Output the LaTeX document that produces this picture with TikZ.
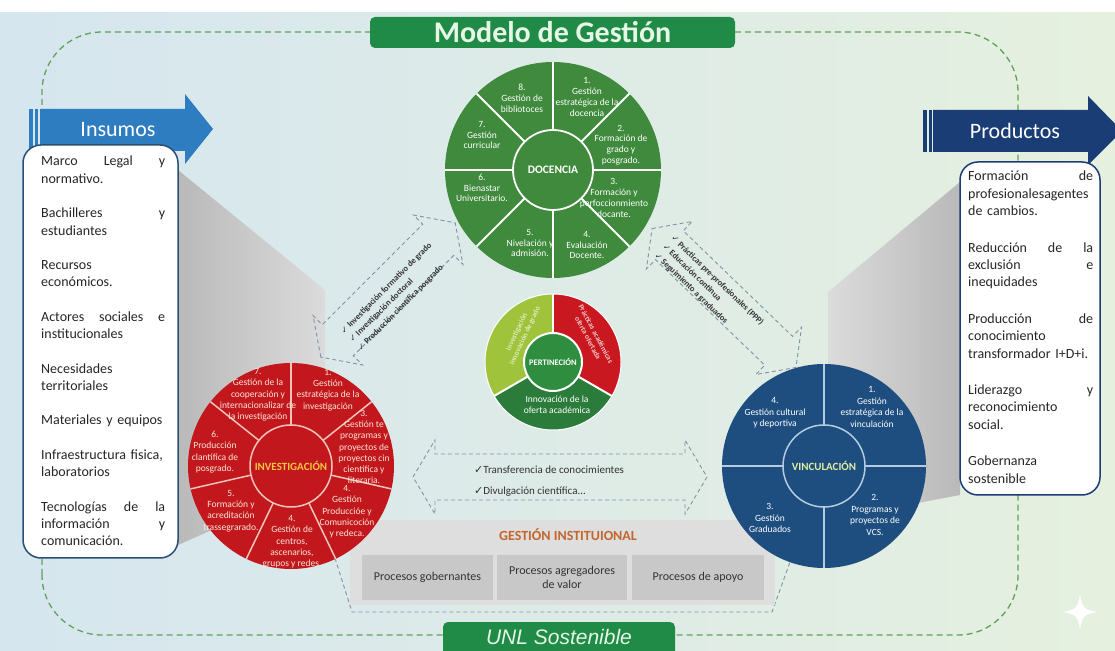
\documentclass[tikz,border=0pt]{standalone}
\usepackage{fontspec}
\setmainfont{Carlito}
\newfontfamily\dejavu{DejaVu Sans}
\newfontfamily\libsans{Liberation Sans}
\definecolor{bgl}{HTML}{D6E6EF}
\definecolor{bgr}{HTML}{E5F0DF}
\definecolor{loopc}{HTML}{5EA35A}
\definecolor{insblue}{HTML}{2E7DC0}
\definecolor{prodblue}{HTML}{1A3D75}
\definecolor{boxblue}{HTML}{2A4F75}
\definecolor{titlegreen}{HTML}{1F8B47}
\definecolor{titletext}{HTML}{E6F7E6}
\definecolor{docgreen}{HTML}{3F8A3C}
\definecolor{invred}{HTML}{C2181D}
\definecolor{invline}{HTML}{F2C4BB}
\definecolor{invtext}{HTML}{F9E6D8}
\definecolor{invlabel}{HTML}{F5C640}
\definecolor{vinblue}{HTML}{1D4E7F}
\definecolor{vinline}{HTML}{B5CBE0}
\definecolor{vinlabel}{HTML}{E2EC9E}
\definecolor{pyel}{HTML}{9FC43C}
\definecolor{pred}{HTML}{C9181F}
\definecolor{pdg}{HTML}{2B7B3B}
\definecolor{pcen}{HTML}{2F8D3F}
\definecolor{arrgray}{HTML}{7F93A6}
\definecolor{panelgray}{HTML}{DEDEDE}
\definecolor{procgray}{HTML}{C8C8C8}
\definecolor{proctext}{HTML}{333333}
\definecolor{orangec}{HTML}{C4662C}
\definecolor{textdark}{HTML}{333333}
\newcommand\hollowdbl[7]{%
 \begin{scope}[shift={(#1,#2)}, rotate=#3]
 \draw[dasharrow] ({-#4/2},0) -- ({-#4/2+#7},#6) -- ({-#4/2+#7},#5) -- ({#4/2-#7},#5) -- ({#4/2-#7},#6) -- ({#4/2},0) -- ({#4/2-#7},-#6) -- ({#4/2-#7},-#5) -- ({-#4/2+#7},-#5) -- ({-#4/2+#7},-#6) -- cycle;
 \end{scope}}
\newcommand\chk{{\dejavu ✓}}
\begin{document}
\begin{tikzpicture}[x=1pt,y=1pt,
  dtext/.style={font=\fontsize{9.5}{10.8}\selectfont, text=white, align=center, inner sep=0pt},
  itext/.style={font=\fontsize{9.5}{11.3}\selectfont, text=invtext, align=center, inner sep=0pt},
  vtext/.style={font=\fontsize{9.5}{11.6}\selectfont, text=white, align=center, inner sep=0pt},
  dasharrow/.style={draw=arrgray, line width=0.9pt, dash pattern=on 4pt off 3pt},
  procbox/.style={fill=procgray, minimum height=45pt, inner sep=2pt, align=center, font=\fontsize{12}{13.5}\selectfont, text=proctext},
  listtext/.style={anchor=north west, inner sep=0pt, align=left, text=black!85, font=\fontsize{14}{17.4}\selectfont},
  arrowlabel/.style={font=\fontsize{22}{24}\selectfont, text=white},
]
\useasboundingbox (0,0) rectangle (1115,650);
\clip (0,0) rectangle (1115,650);
% background
\shade[left color=bgl, right color=bgr] (0,0) rectangle (1115,640);
\fill[white] (0,638) rectangle (1115,650);
% big dashed loop
\draw[loopc, line width=1.3pt, dash pattern=on 6pt off 4pt, rounded corners=60pt] (42,15) rectangle (1018,618);
% gray projections
\shade[left color=gray!55, right color=gray!28] (178,480) -- (325,360) -- (325,170) -- (178,105) -- cycle;
\shade[left color=gray!28, right color=gray!55] (828,358) -- (960,468) -- (960,155) -- (828,130) -- cycle;
% dashed connector under panel
\draw[dasharrow] (335,92) -- (352,38) -- (772,38) -- (790,88);
% institutional panel
\fill[panelgray] (350,45) rectangle (775,130);
\node[font=\bfseries\fontsize{14}{16}\selectfont, text=orangec] (gi) at (568,115) {GESTIÓN INSTITUIONAL};
\node[procbox, minimum width=131pt] (p1) at (427.5,72.5) {Procesos gobernantes};
\node[procbox, minimum width=130pt] (p2) at (562,72.5) {Procesos agregadores\\de valor};
\node[procbox, minimum width=132pt] (p3) at (698,72.5) {Procesos de apoyo};
% Insumos arrow
\fill[insblue] (40,499) -- (185,499) -- (185,486) -- (213,521) -- (185,556) -- (185,541) -- (40,541) -- cycle;
\fill[insblue] (29,499) rectangle (33,541);
\fill[insblue] (35,499) rectangle (38,541);
\node[arrowlabel] (insl) at (118,520) {Insumos};
% Insumos box
\draw[boxblue, line width=1.5pt, fill=white, rounded corners=18pt] (23,92) rectangle (178,505);
\node[listtext, text width=124pt] (inslist) at (41,494) {Marco\hfill Legal\hfill y\\
normativo.\\[17pt]
Bachilleres\hfill y\\
estudiantes\\[17pt]
Recursos\\
económicos.\\[17pt]
Actores\hfill sociales\hfill e\\
institucionales\\[17pt]
Necesidades\\
territoriales\\[17pt]
Materiales y equipos\\[17pt]
Infraestructura fisica,\\
laboratorios\\[17pt]
Tecnologías\hfill de\hfill la\\
información\hfill y\\
comunicación.};
% Productos arrow
\fill[prodblue] (933,498) -- (1088,498) -- (1088,485) -- (1122,519) -- (1088,554) -- (1088,540) -- (933,540) -- cycle;
\fill[prodblue] (923,498) rectangle (927,540);
\fill[prodblue] (929,498) rectangle (932,540);
\node[arrowlabel] (prodl) at (1015,519) {Productos};
% Productos box
\draw[prodblue, line width=1.5pt, fill=white, rounded corners=18pt] (960,155) rectangle (1100,488);
\node[listtext, text width=125pt] (prodlist) at (968,479) {Formación\hfill de\\
profesionalesagentes\\
de cambios.\\[19pt]
Reducción\hfill de\hfill la\\
exclusión\hfill e\\
inequidades\\[19pt]
Producción\hfill de\\
conocimiento\\
transformador I+D+i.\\[19pt]
Liderazgo\hfill y\\
reconocimiento\\
social.\\[19pt]
Gobernanza\\
sostenible};
% titles
\node[fill=titlegreen, rounded corners=5pt, minimum width=365pt, minimum height=31pt, inner sep=0pt, font=\bfseries\fontsize{30}{32}\selectfont, text=titletext] (title) at (552.5,617.5) {Modelo de Gestión};
\fill[titlegreen, rounded corners=5pt] (443,-10) rectangle (675,28);
\node[font=\libsans\itshape\fontsize{21}{23}\selectfont, text=titletext] (unl) at (559,13) {UNL Sostenible};
% ---------- DOCENCIA ----------
\coordinate (doc) at (553,480);
\fill[docgreen] (doc) circle (108);
\foreach \a in {0,45,...,315}
  \draw[white, line width=1.8pt] ([shift={(\a:40)}]doc) -- ([shift={(\a:108)}]doc);
\draw[white, line width=1.8pt] (doc) circle (40);
\node[font=\bfseries\fontsize{11.5}{12}\selectfont, text=white] (docl) at (doc) {DOCENCIA};
\node[dtext] (d1) at (587,553) {1.\\Gestión\\estratégica de la\\docencia};
\node[dtext] (d2) at (621,505) {2.\\Formación de\\grado y\\posgrado.};
\node[dtext] (d3) at (614,452) {3.\\Formación y\\perfoccionmiento\\docante.};
\node[dtext] (d4) at (587,405) {4.\\Evaluación\\Docente.};
\node[dtext] (d5) at (530,407) {5.\\Nivelación y\\admisión.};
\node[dtext] (d6) at (482,462) {6.\\Bienastar\\Universitario.};
\node[dtext] (d7) at (482,515) {7.\\Gestión\\curricular};
\node[dtext] (d8) at (522,552) {8.\\Gestión de\\bibliotoces};
% ---------- INVESTIGACION ----------
\coordinate (inv) at (291,184);
\fill[invred] (inv) circle (103);
\foreach \a in {90,38.571,-12.857,-64.286,-115.714,-167.143,141.429}
  \draw[invline, line width=1.5pt] ([shift={(\a:41)}]inv) -- ([shift={(\a:103)}]inv);
\draw[invline, line width=1.5pt] (inv) circle (41);
\node[font=\bfseries\fontsize{11}{12}\selectfont, text=invlabel] (invl) at (inv) {INVESTIGACIÓN};
\node[itext] (i7) at (258,255) {7.\\Gestión de la\\cooperación y\\internacionalizar de\\la investigación};
\node[itext] (i1) at (328,260) {1.\\Gestión\\estratégica de la\\investigación};
\node[itext] (i3) at (364,203) {3.\\Gestión te\\programas y\\proyectos de\\proyectos cin\\cientifica y\\literaria.};
\node[itext] (i4a) at (347,138) {4.\\Gestión\\Produccióe y\\Comunicoción\\y redeca.};
\node[itext] (i4b) at (292,108) {4.\\Gestión de\\centros,\\ascenarios,\\grupos y redes.};
\node[itext] (i5) at (231,139) {5.\\Formación y\\acreditación\\trassegrarado.};
\node[itext] (i6) at (215,198) {6.\\Producción\\clantífica de\\posgrado.};
% ---------- VINCULACION ----------
\coordinate (vin) at (824,184);
\fill[vinblue] (vin) circle (102);
\foreach \a in {0,90,180,270}
  \draw[vinline, line width=1.5pt] ([shift={(\a:41)}]vin) -- ([shift={(\a:102)}]vin);
\draw[vinline, line width=1.5pt] (vin) circle (41);
\node[font=\bfseries\fontsize{11}{12}\selectfont, text=vinlabel] (vinl) at (vin) {VINCULACIÓN};
\node[vtext] (v4) at (775,237) {4.\\Gestión cultural\\y deportiva};
\node[vtext] (v1) at (872,243) {1.\\Gestión\\estratégica de la\\vinculación};
\node[vtext] (v3) at (770,132) {3.\\Gestión\\Graduados};
\node[vtext] (v2) at (875,135) {2.\\Programas y\\proyectos de\\VCS.};
% ---------- PERTINENCIA ----------
\coordinate (pc) at (553,288);
\fill[pyel] (pc) -- ([shift={(90:68)}]pc) arc[start angle=90, end angle=210, radius=68] -- cycle;
\fill[pred] (pc) -- ([shift={(-30:68)}]pc) arc[start angle=-30, end angle=90, radius=68] -- cycle;
\fill[pdg] (pc) -- ([shift={(210:68)}]pc) arc[start angle=210, end angle=330, radius=68] -- cycle;
\draw[white, line width=1pt] (pc) circle (68);
\foreach \a in {90,210,330}
  \draw[white, line width=2pt] ([shift={(\a:29)}]pc) -- ([shift={(\a:68)}]pc);
\draw[white, line width=2pt, fill=pcen] (pc) circle (29);
\node[font=\bfseries\fontsize{8.5}{9}\selectfont, text=white] (pl) at (pc) {PERTINECIÓN};
\node[font=\fontsize{9.5}{11}\selectfont, text=white, align=center] (pt1) at (557,245) {Innovación de la\\oferta académica};
\node[font=\bfseries\fontsize{7.5}{9}\selectfont, text=pyel!35, align=center, rotate=65] (pt2) at (521,316) {Investigación\\innovación de grado};
\node[font=\bfseries\fontsize{7.5}{9}\selectfont, text=pred!25, align=center, rotate=-62] (pt3) at (592,314) {Prácticas académicas\\oferta ofertada};
% ---------- dashed double arrows ----------
\hollowdbl{388}{360}{45}{190}{22}{35}{24}
\hollowdbl{724}{352}{-44}{200}{20}{33}{24}
\hollowdbl{560}{173}{0}{294}{23}{37}{22}
\node[rotate=45, align=left, inner sep=0pt, font=\bfseries\fontsize{8.5}{12}\selectfont, text=textdark] (ta) at (395,353) {\chk\ Investigación formativo de grado\\\chk\ Investigación doctoral\\\chk\ Producción científica posgrado};
\node[rotate=-44, align=left, inner sep=0pt, font=\bfseries\fontsize{8.5}{12}\selectfont, text=textdark] (tb) at (709,361) {\chk\ Prácticas pre-profesionales (PPP)\\\chk\ Educación continua\\\chk\ Seguimiento a graduados};
\node[anchor=west, align=left, inner sep=0pt, font=\fontsize{11}{21}\selectfont, text=textdark] (tc) at (474,168.5) {\chk Transferencia de conocimientes\\\chk Divulgación científica...};
% sparkle
\fill[white] (1080,56) .. controls (1082,42) and (1084,40) .. (1098,38) .. controls (1084,36) and (1082,34) .. (1080,20) .. controls (1078,34) and (1076,36) .. (1062,38) .. controls (1076,40) and (1078,42) .. (1080,56);
\end{tikzpicture}
\end{document}
